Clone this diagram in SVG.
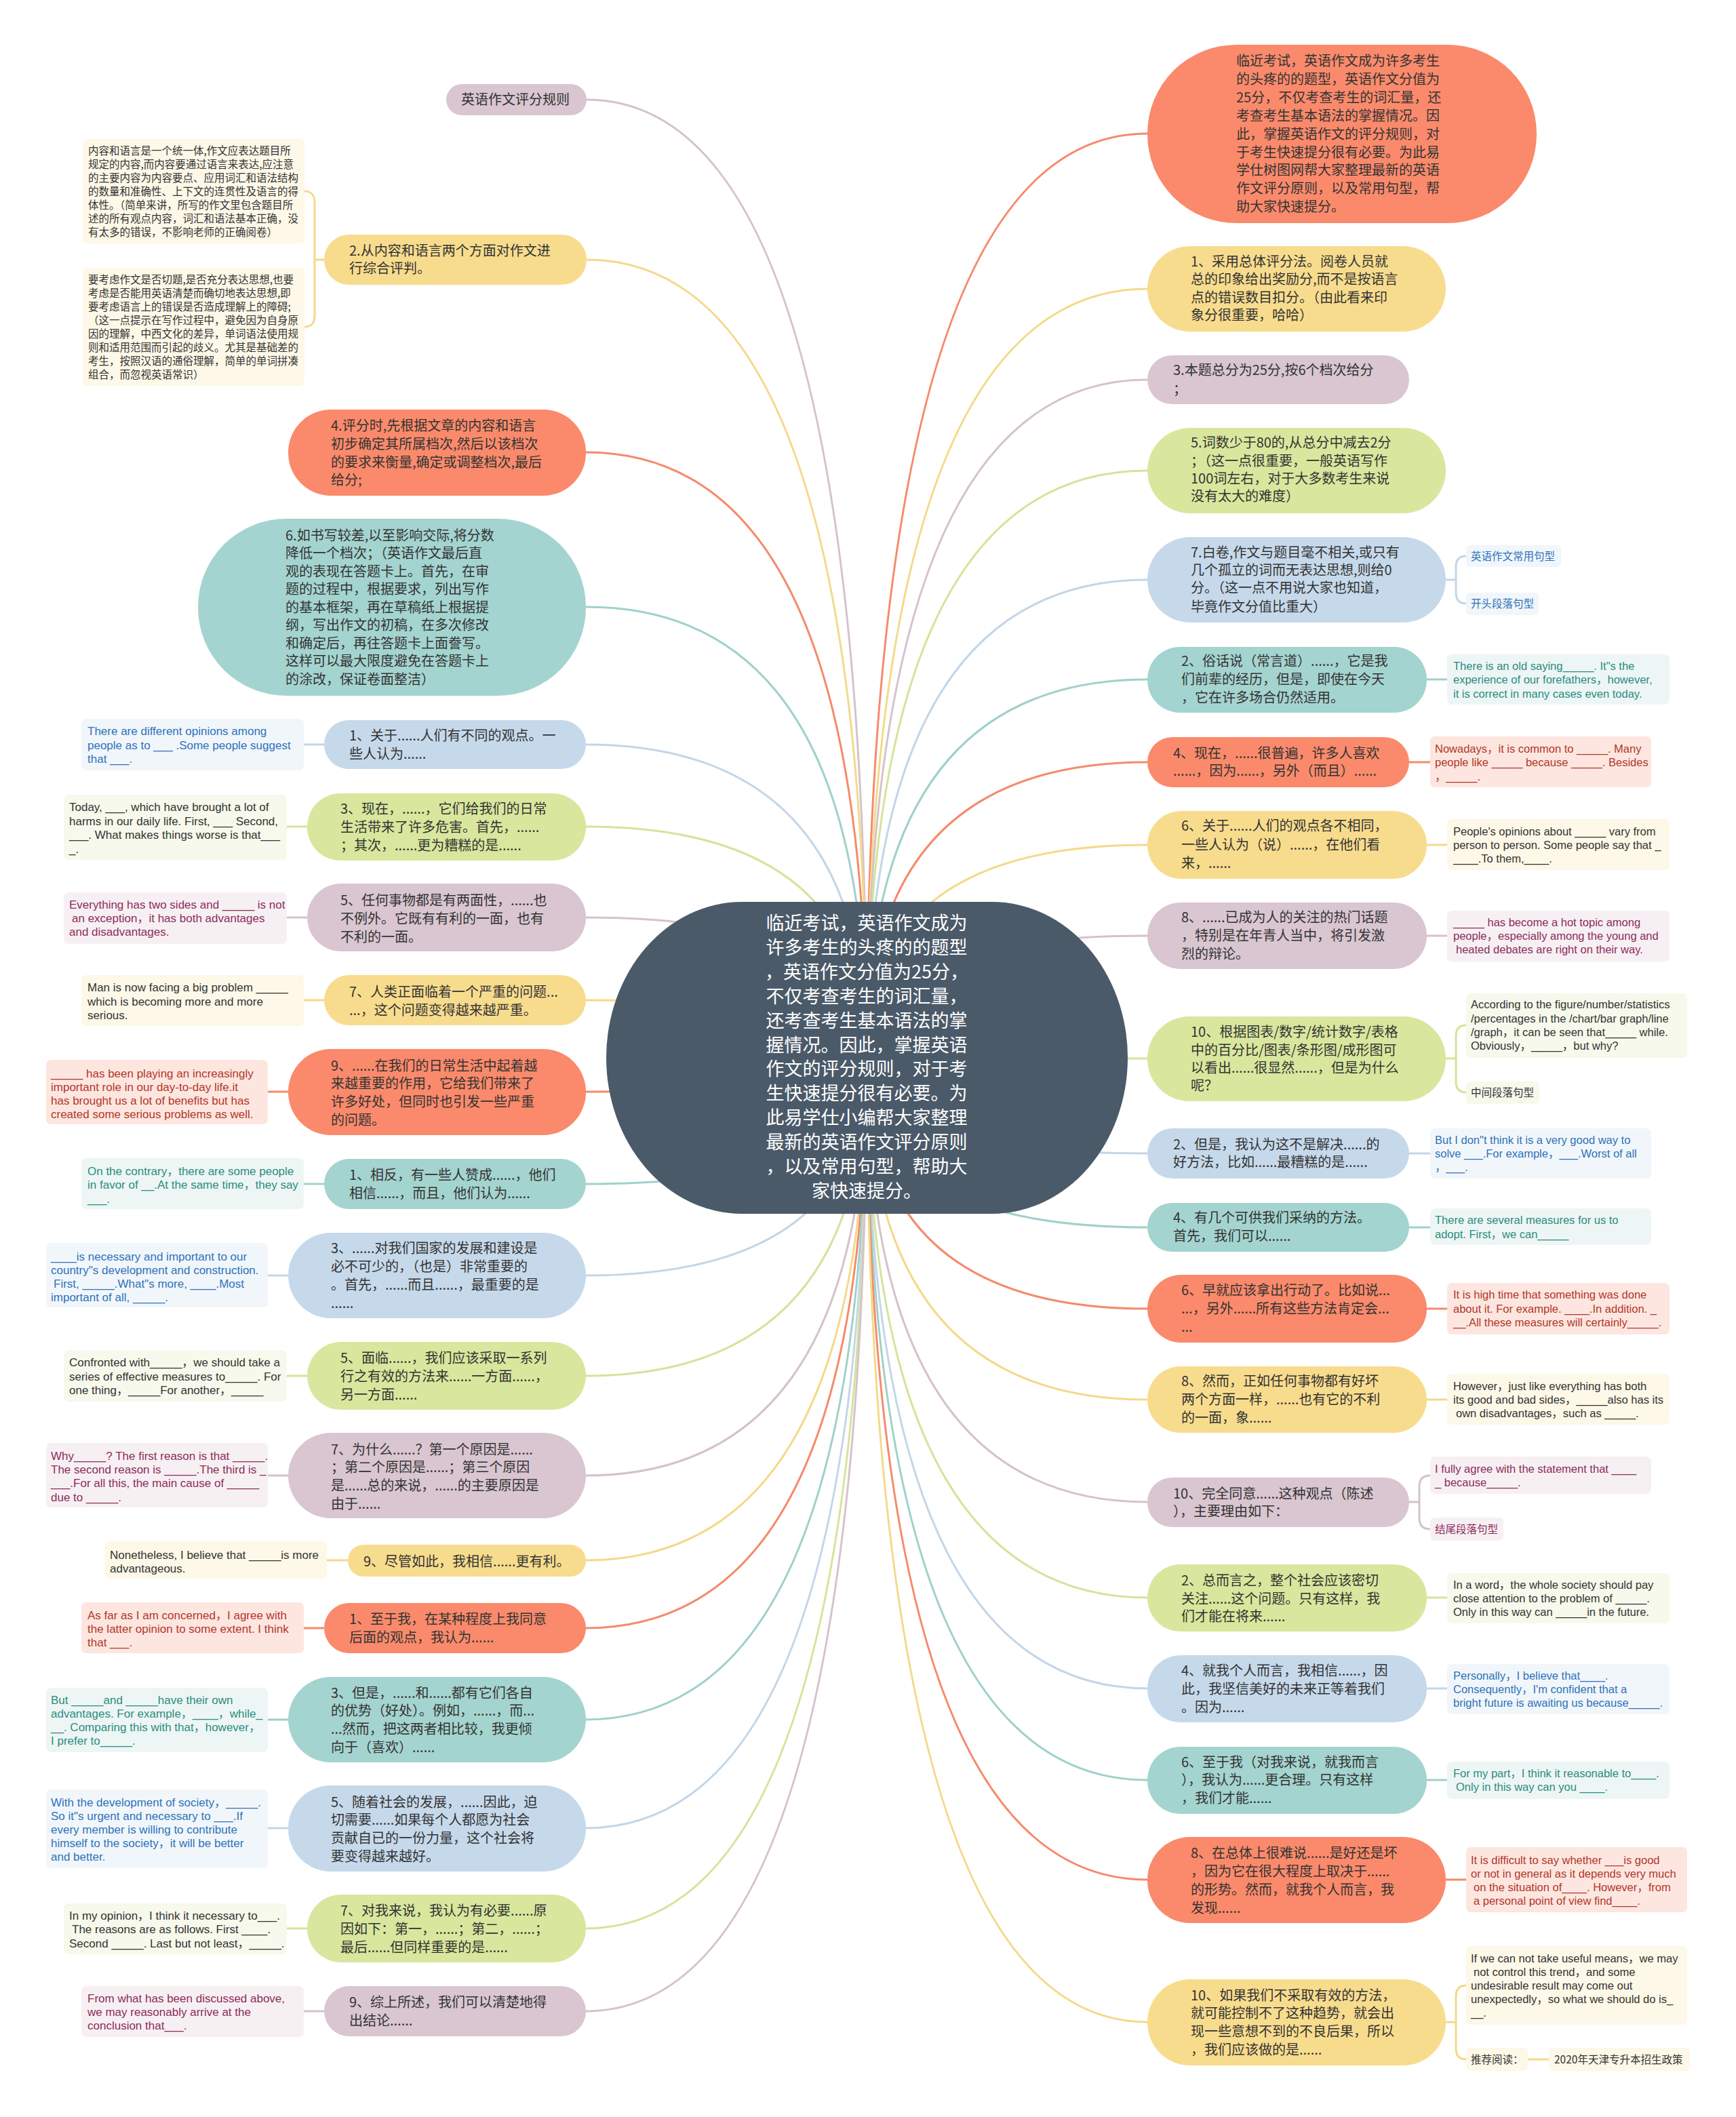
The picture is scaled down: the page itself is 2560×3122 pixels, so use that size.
<svg xmlns="http://www.w3.org/2000/svg" width="2560" height="3122" viewBox="0 0 2560 3122">
<style>
.t{font-family:"Noto Sans CJK SC","Noto Sans",sans-serif;font-size:20px;fill:#333}
.rt{font-family:"Noto Sans CJK SC",sans-serif;font-size:27px;fill:#fff;text-anchor:middle}
.el{font-family:"Liberation Sans","Noto Sans CJK SC",sans-serif;font-size:17px}
.er{font-family:"Liberation Sans","Noto Sans CJK SC",sans-serif;font-size:16.5px}
.s{font-family:"Noto Sans CJK SC",sans-serif;font-size:15.5px;fill:#333}
.or{fill:#fa8a6b}.ye{fill:#f8dc8d}.ma{fill:#d9c6d0}.gr{fill:#d8e79d}.bl{fill:#c6d9eb}.te{fill:#a4d4cf}
.bor{fill:#fde6df}.bye{fill:#fdf8e7}.bma{fill:#f7f0f3}.bgr{fill:#f6f9eb}.bbl{fill:#f1f6fb}.bte{fill:#edf6f5}
.cor{fill:#b1372b}.cma{fill:#8c2c5c}.cbl{fill:#2e72b8}.cte{fill:#2b8c7e}.cdk{fill:#333}
#links path{fill:none;stroke-width:3}
.lor{stroke:#f58a6b}.lye{stroke:#f4d98a}.lma{stroke:#d5c2cc}.lgr{stroke:#d4e49a}.lbl{stroke:#c3d6e8}.lte{stroke:#9fd1cb}
</style>
<rect width="2560" height="3122" fill="#ffffff"/>
<g id="links">
<path class="lma" d="M1278,1560 Q1278,147 865,147"/>
<path class="lye" d="M1278,1560 Q1278,383 865,383"/>
<path class="lor" d="M1278,1560 Q1278,667 864,667"/>
<path class="lte" d="M1278,1560 Q1278,895 864,895"/>
<path class="lbl" d="M1278,1560 Q1278,1098 863,1098"/>
<path class="lgr" d="M1278,1560 Q1278,1219 863,1219"/>
<path class="lma" d="M1278,1560 Q1278,1353 863,1353"/>
<path class="lye" d="M1278,1560 Q1278,1475 863,1475"/>
<path class="lor" d="M1278,1560 Q1278,1610 863,1610"/>
<path class="lte" d="M1278,1560 Q1278,1746 863,1746"/>
<path class="lbl" d="M1278,1560 Q1278,1881 863,1881"/>
<path class="lgr" d="M1278,1560 Q1278,2029 863,2029"/>
<path class="lma" d="M1278,1560 Q1278,2176 863,2176"/>
<path class="lye" d="M1278,1560 Q1278,2301 863,2301"/>
<path class="lor" d="M1278,1560 Q1278,2401 863,2401"/>
<path class="lte" d="M1278,1560 Q1278,2536 863,2536"/>
<path class="lbl" d="M1278,1560 Q1278,2696 863,2696"/>
<path class="lgr" d="M1278,1560 Q1278,2844 863,2844"/>
<path class="lma" d="M1278,1560 Q1278,2966 863,2966"/>
<path class="lor" d="M1278,1560 Q1278,197 1692,197"/>
<path class="lye" d="M1278,1560 Q1278,426 1692,426"/>
<path class="lma" d="M1278,1560 Q1278,560 1692,560"/>
<path class="lgr" d="M1278,1560 Q1278,694 1692,694"/>
<path class="lbl" d="M1278,1560 Q1278,855 1692,855"/>
<path class="lte" d="M1278,1560 Q1278,1002 1692,1002"/>
<path class="lor" d="M1278,1560 Q1278,1124 1692,1124"/>
<path class="lye" d="M1278,1560 Q1278,1246 1692,1246"/>
<path class="lma" d="M1278,1560 Q1278,1380 1692,1380"/>
<path class="lgr" d="M1278,1560 Q1278,1561 1692,1561"/>
<path class="lbl" d="M1278,1560 Q1278,1701 1692,1701"/>
<path class="lte" d="M1278,1560 Q1278,1810 1692,1810"/>
<path class="lor" d="M1278,1560 Q1278,1930 1692,1930"/>
<path class="lye" d="M1278,1560 Q1278,2064 1692,2064"/>
<path class="lma" d="M1278,1560 Q1278,2215 1692,2215"/>
<path class="lgr" d="M1278,1560 Q1278,2356 1692,2356"/>
<path class="lbl" d="M1278,1560 Q1278,2490 1692,2490"/>
<path class="lte" d="M1278,1560 Q1278,2625 1692,2625"/>
<path class="lor" d="M1278,1560 Q1278,2772 1692,2772"/>
<path class="lye" d="M1278,1560 Q1278,2982 1692,2982"/>
<!-- left child links -->
<path class="lye" d="M478,383 H464 M449,282 C460,282 464,288 464,300 V465 C464,476 460,482 449,482"/>
<path class="lbl" d="M448,1098 H478"/>
<path class="lgr" d="M423,1219 H453"/>
<path class="lma" d="M423,1353 H453"/>
<path class="lye" d="M448,1475 H478"/>
<path class="lor" d="M395,1610 H425"/>
<path class="lte" d="M448,1746 H478"/>
<path class="lbl" d="M395,1881 H425"/>
<path class="lgr" d="M423,2029 H453"/>
<path class="lma" d="M395,2176 H425"/>
<path class="lye" d="M482,2301 H513"/>
<path class="lor" d="M448,2401 H478"/>
<path class="lte" d="M395,2536 H425"/>
<path class="lbl" d="M395,2696 H425"/>
<path class="lgr" d="M423,2844 H453"/>
<path class="lma" d="M448,2966 H478"/>
<!-- right child links -->
<path class="lbl" d="M2132,855 H2147 M2162,820 C2151,820 2147,826 2147,836 V874 C2147,884 2151,890 2162,890"/>
<path class="lte" d="M2104,1002 H2134"/>
<path class="lor" d="M2078,1124 H2109"/>
<path class="lye" d="M2104,1246 H2134"/>
<path class="lma" d="M2104,1380 H2134"/>
<path class="lgr" d="M2132,1561 H2147 M2162,1512 C2151,1512 2147,1518 2147,1528 V1595 C2147,1605 2151,1611 2162,1611"/>
<path class="lbl" d="M2078,1701 H2109"/>
<path class="lte" d="M2078,1810 H2109"/>
<path class="lor" d="M2104,1930 H2134"/>
<path class="lye" d="M2104,2064 H2134"/>
<path class="lma" d="M2078,2215 H2093 M2109,2176 C2098,2176 2093,2182 2093,2192 V2239 C2093,2249 2098,2255 2109,2255"/>
<path class="lgr" d="M2104,2356 H2134"/>
<path class="lbl" d="M2104,2490 H2134"/>
<path class="lte" d="M2104,2625 H2134"/>
<path class="lor" d="M2132,2772 H2162"/>
<path class="lye" d="M2132,2982 H2147 M2162,2928 C2151,2928 2147,2934 2147,2944 V3021 C2147,3031 2151,3037 2162,3037 M2253,3037 H2284"/>
</g>

<g id="root">
<rect x="894" y="1330" width="769" height="460" rx="200" ry="230" fill="#4b5a69"/>
<text class="rt"><tspan x="1278" y="1371">临近考试，英语作文成为</tspan><tspan x="1278" y="1407">许多考生的头疼的的题型</tspan><tspan x="1278" y="1443">，英语作文分值为25分，</tspan><tspan x="1278" y="1479">不仅考查考生的词汇量，</tspan><tspan x="1278" y="1515">还考查考生基本语法的掌</tspan><tspan x="1278" y="1551">握情况。因此，掌握英语</tspan><tspan x="1278" y="1586">作文的评分规则，对于考</tspan><tspan x="1278" y="1622">生快速提分很有必要。为</tspan><tspan x="1278" y="1658">此易学仕小编帮大家整理</tspan><tspan x="1278" y="1694">最新的英语作文评分原则</tspan><tspan x="1278" y="1730">，以及常用句型，帮助大</tspan><tspan x="1278" y="1766">家快速提分。</tspan></text>
</g>

<!-- LEFT -->
<g id="L0"><rect class="ma" x="658" y="124" width="207" height="46" rx="23"/><text class="t" x="680" y="154">英语作文评分规则</text></g>
<g id="L1"><rect class="ye" x="478" y="346" width="387" height="74" rx="37"/><text class="t"><tspan x="515" y="377">2.从内容和语言两个方面对作文进</tspan><tspan x="515" y="403">行综合评判。</tspan></text></g>
<g id="L1a"><rect class="bye" x="122" y="205" width="327" height="154" rx="7"/><text class="s"><tspan x="130" y="228">内容和语言是一个统一体,作文应表达题目所</tspan><tspan x="130" y="248">规定的内容,而内容要通过语言来表达,应注意</tspan><tspan x="130" y="268">的主要内容为内容要点、应用词汇和语法结构</tspan><tspan x="130" y="288">的数量和准确性、上下文的连贯性及语言的得</tspan><tspan x="130" y="308">体性。（简单来讲，所写的作文里包含题目所</tspan><tspan x="130" y="328">述的所有观点内容，词汇和语法基本正确，没</tspan><tspan x="130" y="348">有太多的错误，不影响老师的正确阅卷）</tspan></text></g>
<g id="L1b"><rect class="bye" x="122" y="395" width="327" height="174" rx="7"/><text class="s"><tspan x="130" y="418">要考虑作文是否切题,是否充分表达思想,也要</tspan><tspan x="130" y="438">考虑是否能用英语清楚而确切地表达思想,即</tspan><tspan x="130" y="458">要考虑语言上的错误是否造成理解上的障碍;</tspan><tspan x="130" y="478">（这一点提示在写作过程中，避免因为自身原</tspan><tspan x="130" y="498">因的理解，中西文化的差异，单词语法使用规</tspan><tspan x="130" y="518">则和适用范围而引起的歧义。尤其是基础差的</tspan><tspan x="130" y="538">考生，按照汉语的通俗理解，简单的单词拼凑</tspan><tspan x="130" y="558">组合，而忽视英语常识）</tspan></text></g>
<g id="L2"><rect class="or" x="425" y="604" width="439" height="127" rx="63"/><text class="t"><tspan x="488" y="635">4.评分时,先根据文章的内容和语言</tspan><tspan x="488" y="662">初步确定其所属档次,然后以该档次</tspan><tspan x="488" y="689">的要求来衡量,确定或调整档次,最后</tspan><tspan x="488" y="715">给分;</tspan></text></g>
<g id="L3"><rect class="te" x="292" y="765" width="572" height="261" rx="130"/><text class="t"><tspan x="421" y="797">6.如书写较差,以至影响交际,将分数</tspan><tspan x="421" y="823">降低一个档次；（英语作文最后直</tspan><tspan x="421" y="850">观的表现在答题卡上。首先，在审</tspan><tspan x="421" y="876">题的过程中，根据要求，列出写作</tspan><tspan x="421" y="903">的基本框架，再在草稿纸上根据提</tspan><tspan x="421" y="929">纲，写出作文的初稿，在多次修改</tspan><tspan x="421" y="956">和确定后，再往答题卡上面誊写。</tspan><tspan x="421" y="982">这样可以最大限度避免在答题卡上</tspan><tspan x="421" y="1009">的涂改，保证卷面整洁）</tspan></text></g>

<g id="L4"><rect class="bl" x="478" y="1062" width="386" height="72" rx="36"/><text class="t"><tspan x="515" y="1092">1、关于......人们有不同的观点。一</tspan><tspan x="515" y="1119">些人认为......</tspan></text></g>
<g id="L4c"><rect class="bbl" x="120" y="1060" width="328" height="76" rx="7"/><text class="el cbl"><tspan x="129" y="1084">There are different opinions among</tspan><tspan x="129" y="1105">people as to ___ .Some people suggest</tspan><tspan x="129" y="1125">that ___.</tspan></text></g>

<g id="L5"><rect class="gr" x="453" y="1170" width="411" height="99" rx="49"/><text class="t"><tspan x="502" y="1200">3、现在，......，它们给我们的日常</tspan><tspan x="502" y="1227">生活带来了许多危害。首先，......</tspan><tspan x="502" y="1254">；其次，......更为糟糕的是......</tspan></text></g>
<g id="L5c"><rect class="bgr" x="94" y="1172" width="329" height="96" rx="7"/><text class="el cdk"><tspan x="102" y="1196">Today, ___,  which have brought a lot of</tspan><tspan x="102" y="1217">harms in our daily life. First,  ___ Second,</tspan><tspan x="102" y="1237">___. What makes things worse is that___</tspan><tspan x="102" y="1258">_.</tspan></text></g>

<g id="L6"><rect class="ma" x="453" y="1303" width="411" height="100" rx="50"/><text class="t"><tspan x="502" y="1335">5、任何事物都是有两面性，......也</tspan><tspan x="502" y="1362">不例外。它既有有利的一面，也有</tspan><tspan x="502" y="1389">不利的一面。</tspan></text></g>
<g id="L6c"><rect class="bma" x="94" y="1316" width="329" height="76" rx="7"/><text class="el cma"><tspan x="102" y="1340">Everything has two sides and _____ is not</tspan><tspan x="106" y="1360">an exception，it has both advantages</tspan><tspan x="102" y="1380">and disadvantages.</tspan></text></g>

<g id="L7"><rect class="ye" x="478" y="1438" width="386" height="74" rx="37"/><text class="t"><tspan x="515" y="1470">7、人类正面临着一个严重的问题...</tspan><tspan x="515" y="1497">...，这个问题变得越来越严重。</tspan></text></g>
<g id="L7c"><rect class="bye" x="120" y="1438" width="328" height="75" rx="7"/><text class="el cdk"><tspan x="129" y="1462">Man is now facing a big problem _____</tspan><tspan x="129" y="1483">which is becoming more and more</tspan><tspan x="129" y="1503">serious.</tspan></text></g>

<g id="L8"><rect class="or" x="425" y="1547" width="439" height="127" rx="63"/><text class="t"><tspan x="488" y="1579">9、......在我们的日常生活中起着越</tspan><tspan x="488" y="1605">来越重要的作用，它给我们带来了</tspan><tspan x="488" y="1632">许多好处，但同时也引发一些严重</tspan><tspan x="488" y="1659">的问题。</tspan></text></g>
<g id="L8c"><rect class="bor" x="68" y="1563" width="327" height="95" rx="7"/><text class="el cor"><tspan x="75" y="1589">_____ has been playing an increasingly</tspan><tspan x="75" y="1609">important role in our day-to-day life.it</tspan><tspan x="75" y="1629">has brought us a lot of benefits but has</tspan><tspan x="75" y="1649">created some serious problems as well.</tspan></text></g>

<g id="L9"><rect class="te" x="478" y="1709" width="386" height="74" rx="37"/><text class="t"><tspan x="515" y="1740">1、相反，有一些人赞成......，他们</tspan><tspan x="515" y="1767">相信......，而且，他们认为......</tspan></text></g>
<g id="L9c"><rect class="bte" x="120" y="1708" width="328" height="75" rx="7"/><text class="el cte"><tspan x="129" y="1733">On the contrary，there are some people</tspan><tspan x="129" y="1753">in favor of __.At the same time，they say</tspan><tspan x="129" y="1774">___.</tspan></text></g>

<g id="L10"><rect class="bl" x="425" y="1818" width="439" height="126" rx="63"/><text class="t"><tspan x="488" y="1848">3、......对我们国家的发展和建设是</tspan><tspan x="488" y="1875">必不可少的，（也是）非常重要的</tspan><tspan x="488" y="1902">。首先，......而且......，最重要的是</tspan><tspan x="488" y="1929">......</tspan></text></g>
<g id="L10c"><rect class="bbl" x="68" y="1833" width="327" height="95" rx="7"/><text class="el cbl"><tspan x="75" y="1859">____is necessary and important to our</tspan><tspan x="75" y="1879">country"s development and construction.</tspan><tspan x="79" y="1899">First, _____.What"s more, ____.Most</tspan><tspan x="75" y="1919">important of all, _____.</tspan></text></g>

<g id="L11"><rect class="gr" x="453" y="1979" width="411" height="100" rx="50"/><text class="t"><tspan x="502" y="2010">5、面临......，我们应该采取一系列</tspan><tspan x="502" y="2037">行之有效的方法来......一方面......，</tspan><tspan x="502" y="2064">另一方面......</tspan></text></g>
<g id="L11c"><rect class="bgr" x="94" y="1991" width="329" height="76" rx="7"/><text class="el cdk"><tspan x="102" y="2015">Confronted with_____，we should take a</tspan><tspan x="102" y="2036">series of effective measures to_____. For</tspan><tspan x="102" y="2056">one thing，_____For another，_____</tspan></text></g>

<g id="L12"><rect class="ma" x="425" y="2113" width="439" height="126" rx="63"/><text class="t"><tspan x="488" y="2145">7、为什么......？第一个原因是......</tspan><tspan x="488" y="2171">；第二个原因是......；第三个原因</tspan><tspan x="488" y="2198">是......总的来说，......的主要原因是</tspan><tspan x="488" y="2225">由于......</tspan></text></g>
<g id="L12c"><rect class="bma" x="68" y="2128" width="327" height="95" rx="7"/><text class="el cma"><tspan x="75" y="2153">Why_____? The first reason is that _____.</tspan><tspan x="75" y="2173">The second reason is _____.The third is _</tspan><tspan x="75" y="2193">___.For all this, the main cause of _____</tspan><tspan x="75" y="2214">due to _____.</tspan></text></g>

<g id="L13"><rect class="ye" x="513" y="2278" width="351" height="47" rx="23"/><text class="t" x="536" y="2310">9、尽管如此，我相信......更有利。</text></g>
<g id="L13c"><rect class="bye" x="155" y="2273" width="327" height="55" rx="7"/><text class="el cdk"><tspan x="162" y="2299">Nonetheless, I believe that _____is more</tspan><tspan x="162" y="2319">advantageous.</tspan></text></g>

<g id="L14"><rect class="or" x="478" y="2364" width="386" height="74" rx="37"/><text class="t"><tspan x="515" y="2395">1、至于我，在某种程度上我同意</tspan><tspan x="515" y="2422">后面的观点，我认为......</tspan></text></g>
<g id="L14c"><rect class="bor" x="120" y="2363" width="328" height="75" rx="7"/><text class="el cor"><tspan x="129" y="2388">As far as I am concerned，I agree with</tspan><tspan x="129" y="2408">the latter opinion to some extent. I think</tspan><tspan x="129" y="2428">that ___.</tspan></text></g>

<g id="L15"><rect class="te" x="425" y="2473" width="439" height="126" rx="63"/><text class="t"><tspan x="488" y="2504">3、但是，......和......都有它们各自</tspan><tspan x="488" y="2530">的优势（好处）。例如，......，而...</tspan><tspan x="488" y="2557">...然而，把这两者相比较，我更倾</tspan><tspan x="488" y="2584">向于（喜欢）......</tspan></text></g>
<g id="L15c"><rect class="bte" x="68" y="2489" width="327" height="95" rx="7"/><text class="el cte"><tspan x="75" y="2513">But _____and _____have their own</tspan><tspan x="75" y="2533">advantages. For example，____，while_</tspan><tspan x="75" y="2553">__. Comparing this with that，however，</tspan><tspan x="75" y="2573">I prefer to_____.</tspan></text></g>

<g id="L16"><rect class="bl" x="425" y="2633" width="439" height="127" rx="63"/><text class="t"><tspan x="488" y="2665">5、随着社会的发展，......因此，迫</tspan><tspan x="488" y="2691">切需要......如果每个人都愿为社会</tspan><tspan x="488" y="2718">贡献自已的一份力量，这个社会将</tspan><tspan x="488" y="2745">要变得越来越好。</tspan></text></g>
<g id="L16c"><rect class="bbl" x="68" y="2639" width="327" height="116" rx="7"/><text class="el cbl"><tspan x="75" y="2664">With the development of society，_____.</tspan><tspan x="75" y="2684">So it"s urgent and necessary to ___.If</tspan><tspan x="75" y="2704">every member is willing to contribute</tspan><tspan x="75" y="2724">himself to the society，it will be better</tspan><tspan x="75" y="2744">and better.</tspan></text></g>

<g id="L17"><rect class="gr" x="453" y="2794" width="411" height="100" rx="50"/><text class="t"><tspan x="502" y="2825">7、对我来说，我认为有必要......原</tspan><tspan x="502" y="2852">因如下：第一，......；第二，......；</tspan><tspan x="502" y="2879">最后......但同样重要的是......</tspan></text></g>
<g id="L17c"><rect class="bgr" x="94" y="2807" width="329" height="75" rx="7"/><text class="el cdk"><tspan x="102" y="2831">In my opinion，I think it necessary to___.</tspan><tspan x="106" y="2851">The reasons are as follows. First ____.</tspan><tspan x="102" y="2872">Second _____. Last but not least，_____.</tspan></text></g>

<g id="L18"><rect class="ma" x="478" y="2929" width="386" height="74" rx="37"/><text class="t"><tspan x="515" y="2960">9、综上所述，我们可以清楚地得</tspan><tspan x="515" y="2987">出结论......</tspan></text></g>
<g id="L18c"><rect class="bma" x="120" y="2929" width="328" height="75" rx="7"/><text class="el cma"><tspan x="129" y="2953">From what has been discussed above,</tspan><tspan x="129" y="2973">we may reasonably arrive at the</tspan><tspan x="129" y="2993">conclusion that___.</tspan></text></g>

<!-- RIGHT -->
<g id="R1"><rect class="or" x="1692" y="66" width="574" height="263" rx="131"/><text class="t"><tspan x="1823" y="97">临近考试，英语作文成为许多考生</tspan><tspan x="1823" y="124">的头疼的的题型，英语作文分值为</tspan><tspan x="1823" y="151">25分，不仅考查考生的词汇量，还</tspan><tspan x="1823" y="178">考查考生基本语法的掌握情况。因</tspan><tspan x="1823" y="205">此，掌握英语作文的评分规则，对</tspan><tspan x="1823" y="232">于考生快速提分很有必要。为此易</tspan><tspan x="1823" y="258">学仕树图网帮大家整理最新的英语</tspan><tspan x="1823" y="285">作文评分原则，以及常用句型，帮</tspan><tspan x="1823" y="312">助大家快速提分。</tspan></text></g>
<g id="R2"><rect class="ye" x="1692" y="363" width="440" height="126" rx="63"/><text class="t"><tspan x="1756" y="393">1、采用总体评分法。阅卷人员就</tspan><tspan x="1756" y="419">总的印象给出奖励分,而不是按语言</tspan><tspan x="1756" y="446">点的错误数目扣分。（由此看来印</tspan><tspan x="1756" y="472">象分很重要，哈哈）</tspan></text></g>
<g id="R3"><rect class="ma" x="1692" y="524" width="386" height="72" rx="36"/><text class="t"><tspan x="1730" y="553">3.本题总分为25分,按6个档次给分</tspan><tspan x="1730" y="581">；</tspan></text></g>
<g id="R4"><rect class="gr" x="1692" y="631" width="440" height="126" rx="63"/><text class="t"><tspan x="1756" y="660">5.词数少于80的,从总分中减去2分</tspan><tspan x="1756" y="687">；（这一点很重要，一般英语写作</tspan><tspan x="1756" y="713">100词左右，对于大多数考生来说</tspan><tspan x="1756" y="739">没有太大的难度）</tspan></text></g>
<g id="R5"><rect class="bl" x="1692" y="792" width="440" height="126" rx="63"/><text class="t"><tspan x="1756" y="822">7.白卷,作文与题目毫不相关,或只有</tspan><tspan x="1756" y="848">几个孤立的词而无表达思想,则给0</tspan><tspan x="1756" y="874">分。（这一点不用说大家也知道，</tspan><tspan x="1756" y="902">毕竟作文分值比重大）</tspan></text></g>
<g id="R5a"><rect class="bbl" x="2162" y="804" width="140" height="32" rx="6"/><text class="s cbl" x="2169" y="826">英语作文常用句型</text></g>
<g id="R5b"><rect class="bbl" x="2162" y="874" width="107" height="33" rx="6"/><text class="s cbl" x="2169" y="896">开头段落句型</text></g>

<g id="R6"><rect class="te" x="1692" y="954" width="412" height="97" rx="48"/><text class="t"><tspan x="1742" y="982">2、俗话说（常言道）......，它是我</tspan><tspan x="1742" y="1009">们前辈的经历，但是，即使在今天</tspan><tspan x="1742" y="1036">，它在许多场合仍然适用。</tspan></text></g>
<g id="R6c"><rect class="bte" x="2134" y="965" width="328" height="74" rx="7"/><text class="er cte"><tspan x="2143" y="988">There is an old saying_____. It"s the</tspan><tspan x="2143" y="1008">experience of our forefathers，however,</tspan><tspan x="2143" y="1029">it is correct in many cases even today.</tspan></text></g>

<g id="R7"><rect class="or" x="1692" y="1087" width="386" height="74" rx="37"/><text class="t"><tspan x="1730" y="1118">4、现在，......很普遍，许多人喜欢</tspan><tspan x="1730" y="1144">......，因为......，另外（而且）......</tspan></text></g>
<g id="R7c"><rect class="bor" x="2109" y="1086" width="326" height="75" rx="7"/><text class="er cor"><tspan x="2116" y="1110">Nowadays，it is common to _____. Many</tspan><tspan x="2116" y="1130">people like _____ because _____. Besides</tspan><tspan x="2116" y="1151">，_____.</tspan></text></g>

<g id="R8"><rect class="ye" x="1692" y="1196" width="412" height="100" rx="50"/><text class="t"><tspan x="1742" y="1225">6、关于......人们的观点各不相同，</tspan><tspan x="1742" y="1253">一些人认为（说）......，在他们看</tspan><tspan x="1742" y="1280">来，......</tspan></text></g>
<g id="R8c"><rect class="bye" x="2134" y="1208" width="328" height="75" rx="7"/><text class="er cdk"><tspan x="2143" y="1232">People's opinions about _____ vary from</tspan><tspan x="2143" y="1252">person to person. Some people say that _</tspan><tspan x="2143" y="1272">____.To them,____.</tspan></text></g>

<g id="R9"><rect class="ma" x="1692" y="1331" width="412" height="98" rx="49"/><text class="t"><tspan x="1742" y="1360">8、......已成为人的关注的热门话题</tspan><tspan x="1742" y="1387">，特别是在年青人当中，将引发激</tspan><tspan x="1742" y="1414">烈的辩论。</tspan></text></g>
<g id="R9c"><rect class="bma" x="2134" y="1343" width="328" height="75" rx="7"/><text class="er cma"><tspan x="2143" y="1366">_____ has become a hot topic among</tspan><tspan x="2143" y="1386">people，especially among the young and</tspan><tspan x="2147" y="1406">heated debates are right on their way.</tspan></text></g>

<g id="R10"><rect class="gr" x="1692" y="1499" width="440" height="125" rx="62"/><text class="t"><tspan x="1756" y="1529">10、根据图表/数字/统计数字/表格</tspan><tspan x="1756" y="1556">中的百分比/图表/条形图/成形图可</tspan><tspan x="1756" y="1582">以看出......很显然......，但是为什么</tspan><tspan x="1756" y="1608">呢？</tspan></text></g>
<g id="R10a"><rect class="bgr" x="2162" y="1465" width="326" height="95" rx="7"/><text class="er cdk"><tspan x="2169" y="1487">According to the figure/number/statistics</tspan><tspan x="2169" y="1508">/percentages in the /chart/bar graph/line</tspan><tspan x="2169" y="1528">/graph，it can be seen that_____ while.</tspan><tspan x="2169" y="1548">Obviously，_____，but why?</tspan></text></g>
<g id="R10b"><rect class="bgr" x="2162" y="1595" width="108" height="33" rx="6"/><text class="s cdk" x="2169" y="1617">中间段落句型</text></g>

<g id="R11"><rect class="bl" x="1692" y="1664" width="386" height="74" rx="37"/><text class="t"><tspan x="1730" y="1695">2、但是，我认为这不是解决......的</tspan><tspan x="1730" y="1721">好方法，比如......最糟糕的是......</tspan></text></g>
<g id="R11c"><rect class="bbl" x="2109" y="1664" width="326" height="74" rx="7"/><text class="er cbl"><tspan x="2116" y="1687">But I don"t think it is a very good way to</tspan><tspan x="2116" y="1707">solve ___.For example，___.Worst of all</tspan><tspan x="2116" y="1727">，___.</tspan></text></g>

<g id="R12"><rect class="te" x="1692" y="1774" width="386" height="72" rx="36"/><text class="t"><tspan x="1730" y="1803">4、有几个可供我们采纳的方法。</tspan><tspan x="1730" y="1830">首先，我们可以......</tspan></text></g>
<g id="R12c"><rect class="bte" x="2109" y="1782" width="326" height="54" rx="7"/><text class="er cte"><tspan x="2116" y="1805">There are several measures for us to</tspan><tspan x="2116" y="1826">adopt. First，we can_____</tspan></text></g>

<g id="R13"><rect class="or" x="1692" y="1880" width="412" height="100" rx="50"/><text class="t"><tspan x="1742" y="1910">6、早就应该拿出行动了。比如说...</tspan><tspan x="1742" y="1937">...，另外......所有这些方法肯定会...</tspan><tspan x="1742" y="1964">...</tspan></text></g>
<g id="R13c"><rect class="bor" x="2134" y="1892" width="328" height="76" rx="7"/><text class="er cor"><tspan x="2143" y="1915">It is high time that something was done</tspan><tspan x="2143" y="1936">about it. For example. ____.In addition. _</tspan><tspan x="2143" y="1956">__.All these measures will certainly_____.</tspan></text></g>

<g id="R14"><rect class="ye" x="1692" y="2015" width="412" height="98" rx="49"/><text class="t"><tspan x="1742" y="2044">8、然而，正如任何事物都有好坏</tspan><tspan x="1742" y="2071">两个方面一样，......也有它的不利</tspan><tspan x="1742" y="2098">的一面，象......</tspan></text></g>
<g id="R14c"><rect class="bye" x="2134" y="2026" width="328" height="75" rx="7"/><text class="er cdk"><tspan x="2143" y="2050">However，just like everything has both</tspan><tspan x="2143" y="2070">its good and bad sides，_____also has its</tspan><tspan x="2147" y="2090">own disadvantages，such as _____.</tspan></text></g>

<g id="R15"><rect class="ma" x="1692" y="2179" width="386" height="73" rx="36"/><text class="t"><tspan x="1730" y="2210">10、完全同意......这种观点（陈述</tspan><tspan x="1730" y="2236">），主要理由如下：</tspan></text></g>
<g id="R15a"><rect class="bma" x="2109" y="2148" width="326" height="55" rx="7"/><text class="er cma"><tspan x="2116" y="2172">I fully agree with the statement that ____</tspan><tspan x="2116" y="2192">_ because_____.</tspan></text></g>
<g id="R15b"><rect class="bma" x="2109" y="2238" width="108" height="34" rx="6"/><text class="s cma" x="2116" y="2261">结尾段落句型</text></g>

<g id="R16"><rect class="gr" x="1692" y="2307" width="412" height="99" rx="49"/><text class="t"><tspan x="1742" y="2338">2、总而言之，整个社会应该密切</tspan><tspan x="1742" y="2365">关注......这个问题。只有这样，我</tspan><tspan x="1742" y="2391">们才能在将来......</tspan></text></g>
<g id="R16c"><rect class="bgr" x="2134" y="2320" width="328" height="74" rx="7"/><text class="er cdk"><tspan x="2143" y="2343">In a word，the whole society should pay</tspan><tspan x="2143" y="2363">close attention to the problem of _____.</tspan><tspan x="2143" y="2383">Only in this way can _____in the future.</tspan></text></g>

<g id="R17"><rect class="bl" x="1692" y="2441" width="412" height="99" rx="49"/><text class="t"><tspan x="1742" y="2471">4、就我个人而言，我相信......，因</tspan><tspan x="1742" y="2498">此，我坚信美好的未来正等着我们</tspan><tspan x="1742" y="2525">。因为......</tspan></text></g>
<g id="R17c"><rect class="bbl" x="2134" y="2454" width="328" height="74" rx="7"/><text class="er cbl"><tspan x="2143" y="2477">Personally，I believe that____.</tspan><tspan x="2143" y="2497">Consequently，I'm confident that a</tspan><tspan x="2143" y="2517">bright future is awaiting us because_____.</tspan></text></g>

<g id="R18"><rect class="te" x="1692" y="2576" width="412" height="99" rx="49"/><text class="t"><tspan x="1742" y="2606">6、至于我（对我来说，就我而言</tspan><tspan x="1742" y="2632">），我认为......更合理。只有这样</tspan><tspan x="1742" y="2659">，我们才能......</tspan></text></g>
<g id="R18c"><rect class="bte" x="2134" y="2598" width="328" height="55" rx="7"/><text class="er cte"><tspan x="2143" y="2621">For my part，I think it reasonable to____.</tspan><tspan x="2147" y="2641">Only in this way can you ____.</tspan></text></g>

<g id="R19"><rect class="or" x="1692" y="2709" width="440" height="127" rx="63"/><text class="t"><tspan x="1756" y="2740">8、在总体上很难说......是好还是坏</tspan><tspan x="1756" y="2767">，因为它在很大程度上取决于......</tspan><tspan x="1756" y="2794">的形势。然而，就我个人而言，我</tspan><tspan x="1756" y="2821">发现......</tspan></text></g>
<g id="R19c"><rect class="bor" x="2162" y="2724" width="326" height="96" rx="7"/><text class="er cor"><tspan x="2169" y="2749">It is difficult to say whether ___is good</tspan><tspan x="2169" y="2769">or not in general as it depends very much</tspan><tspan x="2173" y="2789">on the situation of____. However，from</tspan><tspan x="2173" y="2809">a personal point of view find____.</tspan></text></g>

<g id="R20"><rect class="ye" x="1692" y="2919" width="440" height="127" rx="63"/><text class="t"><tspan x="1756" y="2950">10、如果我们不采取有效的方法，</tspan><tspan x="1756" y="2976">就可能控制不了这种趋势，就会出</tspan><tspan x="1756" y="3003">现一些意想不到的不良后果，所以</tspan><tspan x="1756" y="3030">，我们应该做的是......</tspan></text></g>
<g id="R20a"><rect class="bye" x="2162" y="2870" width="326" height="116" rx="7"/><text class="er cdk"><tspan x="2169" y="2894">If we can not take useful means，we may</tspan><tspan x="2173" y="2914">not control this trend，and some</tspan><tspan x="2169" y="2934">undesirable result may come out</tspan><tspan x="2169" y="2954">unexpectedly，so what we should do is_</tspan><tspan x="2169" y="2974">__.</tspan></text></g>
<g id="R20b"><rect class="bye" x="2162" y="3020" width="91" height="34" rx="6"/><text class="s cdk" x="2169" y="3043">推荐阅读：</text></g>
<g id="R20d"><rect class="bye" x="2284" y="3020" width="208" height="34" rx="6"/><text class="s cdk" x="2292" y="3043">2020年天津专升本招生政策</text></g>
</svg>
